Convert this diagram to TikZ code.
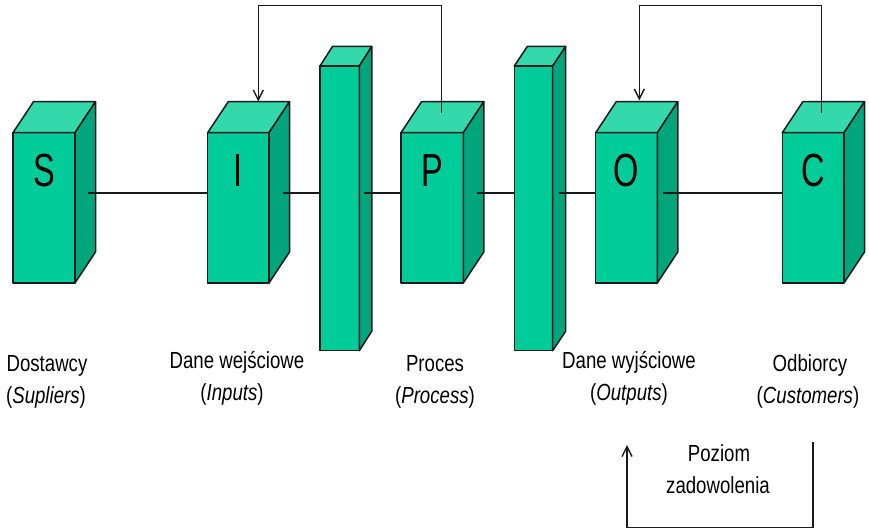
\documentclass[tikz,border=0pt]{standalone}
\usepackage{fontspec}
\setmainfont{Liberation Sans}
\newfontfamily\labelfont[FakeStretch=0.8]{Liberation Sans}
\newfontfamily\letterfont[FakeStretch=0.7]{Liberation Sans}
\usetikzlibrary{arrows.meta}
\definecolor{frontc}{HTML}{00CC99}
\definecolor{topc}{HTML}{33D9AA}
\definecolor{sidec}{HTML}{00A57B}
\definecolor{edgec}{HTML}{1A1A1A}

% a box seen from the front-left: name, left x, right x, top y, bottom y, depth dx, depth dy
\newcommand\prism[7]{%
  \path[face,fill=frontc] (#2,#4) rectangle (#3,#5);
  \path[face,fill=topc] (#2,#4) -- ++(#6,-#7) -- ++({#3-#2},0) -- (#3,#4) -- cycle;
  \path[face,fill=sidec] (#3,#4) -- ++(#6,-#7) -- ++(0,{#5-#4}) -- (#3,#5) -- cycle;
  \coordinate (#1-nw) at (#2,#4);
  \coordinate (#1-se) at (#3,#5);
}

\begin{document}
\begin{tikzpicture}[x=1pt,y=-1pt,
  face/.style={draw=edgec,line width=1.5pt,line join=round},
  link/.style={draw=edgec,line width=1.8pt},
  loop/.style={draw=edgec,line width=1.4pt,
    -{Straight Barb[length=10pt,width=10pt,line width=1.4pt]}},
  letter/.style={font=\letterfont\fontsize{46.5}{50}\selectfont,anchor=base,inner sep=0pt},
  caption/.style={font=\labelfont\fontsize{23.3}{28}\selectfont,anchor=base,inner sep=0pt}]

\useasboundingbox (0,0) rectangle (869,529);

% the five SIPOC boxes
\prism{S}{13}{75}{132.7}{283}{20.5}{31}
\prism{I}{207.7}{269}{132.7}{283}{20.5}{31}
\prism{P}{401}{463.3}{132.7}{283}{20.5}{31}
\prism{O}{595.7}{657.3}{132.7}{283}{20.5}{31}
\prism{C}{782.3}{844}{132.7}{283}{20.5}{31}

% the two tall boundary panels
\prism{F1}{320}{359.3}{66}{350.7}{12.5}{19.5}
\prism{F2}{514.3}{552.7}{66}{350.7}{13}{19.5}

% letters on the box fronts
\node[letter] (S-letter) at (44,186.7) {S};
\node[letter] (I-letter) at (238.3,186.7) {I};
\node[letter] (P-letter) at (432,186.7) {P};
\node[letter] (O-letter) at (626.5,186.7) {O};
\node[letter] (C-letter) at (813,186.7) {C};

% chain of connectors through the middle
\coordinate (S-out) at (88,192.7);
\coordinate (I-in) at (207.7,192.7);
\coordinate (I-out) at (282.7,192.7);
\coordinate (F1-in) at (320,192.7);
\coordinate (F1-out) at (364.3,192.7);
\coordinate (P-in) at (401,192.7);
\coordinate (P-out) at (476.7,192.7);
\coordinate (F2-in) at (514.3,192.7);
\coordinate (F2-out) at (558.7,192.7);
\coordinate (O-in) at (595.7,192.7);
\coordinate (O-out) at (663.3,192.7);
\coordinate (C-in) at (782.3,192.7);

\draw[link] (S-out) -- (I-in);
\draw[link] (I-out) -- (F1-in);
\draw[link] (F1-out) -- (P-in);
\draw[link] (P-out) -- (F2-in);
\draw[link] (F2-out) -- (O-in);
\draw[link] (O-out) -- (C-in);

% feedback loops
\coordinate (P-top) at (441.7,113);
\coordinate (I-top) at (258.3,101.5);
\coordinate (C-top) at (821.7,113);
\coordinate (O-top) at (639.3,100.5);
\coordinate (C-low) at (813,441.7);
\coordinate (O-low) at (627,445);

\draw[loop] (P-top) -- ++(0,-107.3) -| (I-top);
\draw[loop] (C-top) -- ++(0,-107.3) -| (O-top);
\draw[loop] (C-low) -- ++(0,86) -| (O-low);

% captions
\node[caption] (S-name) at (47,371.7) {Dostawcy};
\node[caption] (S-en) at (46,403.3) {({\itshape Supliers})};
\node[caption] (I-name) at (237,368.3) {Dane wejściowe};
\node[caption] (I-en) at (232,400) {({\itshape Inputs})};
\node[caption] (P-name) at (435,371.7) {Proces};
\node[caption] (P-en) at (435,403.3) {({\itshape Process})};
\node[caption] (O-name) at (629,368.3) {Dane wyjściowe};
\node[caption] (O-en) at (629,400) {({\itshape Outputs})};
\node[caption] (C-name) at (810,371.7) {Odbiorcy};
\node[caption] (C-en) at (808,403.3) {({\itshape Customers})};
\node[caption] (fb1) at (719,461.7) {Poziom};
\node[caption] (fb2) at (718,493.3) {zadowolenia};

\end{tikzpicture}
\end{document}
